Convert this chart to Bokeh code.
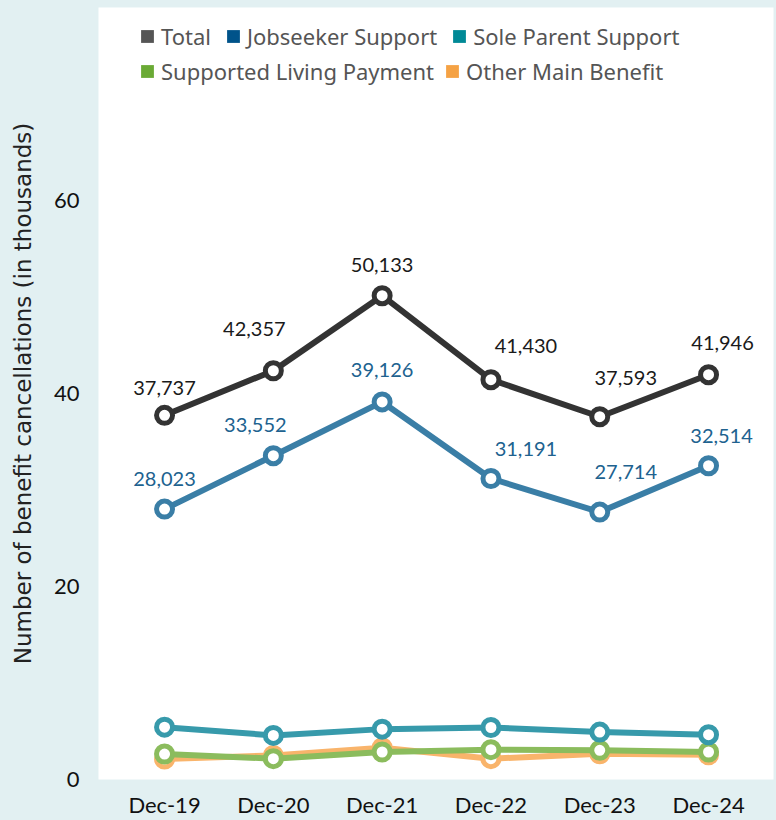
from bokeh.plotting import figure
from bokeh.models import (ColumnDataSource, FixedTicker, Legend, LegendItem,
                          Range1d, GlobalInlineStyleSheet)
from bokeh.embed import file_html
from bokeh.resources import INLINE
from bokeh.core.properties import value

# ---- data (thousands) ----
periods = ["Dec-19", "Dec-20", "Dec-21", "Dec-22", "Dec-23", "Dec-24"]
total = [37.737, 42.357, 50.133, 41.430, 37.593, 41.946]
jobseeker = [28.023, 33.552, 39.126, 31.191, 27.714, 32.514]
sole_parent = [5.42, 4.57, 5.22, 5.39, 4.91, 4.64]
supported_living = [2.64, 2.16, 2.85, 3.09, 3.02, 2.85]
other_main = [2.12, 2.50, 3.30, 2.16, 2.66, 2.56]
y_ticks = [0, 20, 40, 60]

# ---- styling ----
BG = "#e2f0f2"
line_colors = {
    "Total": "#333333",
    "Jobseeker Support": "#3a7ea6",
    "Sole Parent Support": "#379aab",
    "Supported Living Payment": "#8bbc5d",
    "Other Main Benefit": "#f9b46b",
}
swatch_colors = {
    "Total": "#555555",
    "Jobseeker Support": "#00538a",
    "Sole Parent Support": "#008996",
    "Supported Living Payment": "#6aaa35",
    "Other Main Benefit": "#f5a244",
}
# label placement (screen px)
total_dx = [0, -19, 0, 35, 26, 14]
total_dy = [-27, -42, -31, -34, -39, -32]
job_dx = [0, -18, 0, 35, 26, 13]
job_dy = [-30, -31, -32, -30, -40, -30]

xs = list(range(len(periods)))

p = figure(width=776, height=820, output_backend="svg", toolbar_location=None,
           x_range=Range1d(-0.607, 5.597), y_range=Range1d(0, 80),
           min_border_left=98, min_border_right=3, min_border_top=7,
           min_border_bottom=38)
p.background_fill_color = "white"
p.border_fill_color = BG
p.outline_line_color = None
p.grid.visible = False

series = [
    ("Other Main Benefit", other_main),
    ("Supported Living Payment", supported_living),
    ("Sole Parent Support", sole_parent),
    ("Jobseeker Support", jobseeker),
    ("Total", total),
]
for name, vals in series:
    src = ColumnDataSource(dict(x=xs, y=vals))
    c = line_colors[name]
    p.line("x", "y", source=src, line_color=c, line_width=6)
    p.scatter("x", "y", source=src, size=16, marker="circle",
              fill_color="white", line_color=c, line_width=5)

# data labels
def fmt(v):
    return f"{round(v * 1000):,}"

tsrc = ColumnDataSource(dict(x=xs, y=total, t=[fmt(v) for v in total],
                             dx=total_dx, dy=total_dy))
p.text("x", "y", text="t", source=tsrc, x_offset="dx", y_offset="dy",
       text_align="center", text_baseline="middle", text_color="#1a1a1a",
       text_font=value("Lato"), text_font_size="20px")
jsrc = ColumnDataSource(dict(x=xs, y=jobseeker, t=[fmt(v) for v in jobseeker],
                             dx=job_dx, dy=job_dy))
p.text("x", "y", text="t", source=jsrc, x_offset="dx", y_offset="dy",
       text_align="center", text_baseline="middle", text_color="#20628f",
       text_font=value("Lato"), text_font_size="20px")

# legend swatches (glyphs that only serve the legend; NaN data draws nothing)
order = ["Total", "Jobseeker Support", "Sole Parent Support",
         "Supported Living Payment", "Other Main Benefit"]
nan = float("nan")
sw = {}
for name in order:
    sw[name] = p.quad(left=[nan], right=[nan], top=[nan], bottom=[nan],
                      fill_color=swatch_colors[name], line_color=None)

def make_legend(names, loc, spacing):
    lg = Legend(items=[LegendItem(label=n, renderers=[sw[n]]) for n in names],
                location=loc, orientation="horizontal",
                glyph_width=16, glyph_height=16, label_standoff=6, spacing=spacing,
                padding=0, margin=0, background_fill_alpha=0,
                border_line_color=None, label_text_font="Noto Sans",
                label_text_font_size="22px", label_text_color="#555555",
                label_height=24)
    p.add_layout(lg, "center")

make_legend(order[:3], (41, 728), 14)
make_legend(order[3:], (41, 693), 10)

# axes
p.xaxis.ticker = FixedTicker(ticks=xs)
p.xaxis.major_label_overrides = {i: s for i, s in enumerate(periods)}
p.yaxis.ticker = FixedTicker(ticks=y_ticks)
for ax in (p.xaxis, p.yaxis):
    ax.axis_line_color = None
    ax.major_tick_line_color = None
    ax.minor_tick_line_color = None
    ax.major_label_text_font = "Lato"
    ax.major_label_text_font_size = "22px"
    ax.major_label_text_color = "#111111"
p.xaxis.major_tick_out = 0
p.xaxis.major_label_standoff = 11
p.yaxis.major_label_standoff = 13
p.yaxis.axis_label = "Number of benefit cancellations (in thousands)"
p.yaxis.axis_label_text_font = "DejaVu Sans"
p.yaxis.axis_label_text_font_size = "23px"
p.yaxis.axis_label_text_font_style = "normal"
p.yaxis.axis_label_text_color = "#222222"
p.yaxis.axis_label_standoff = 15

p.stylesheets = [GlobalInlineStyleSheet(
    css=f"html, body {{ margin: 0; padding: 0; overflow: hidden; background: {BG}; }}")]

open("out.html", "w").write(file_html(p, INLINE))
